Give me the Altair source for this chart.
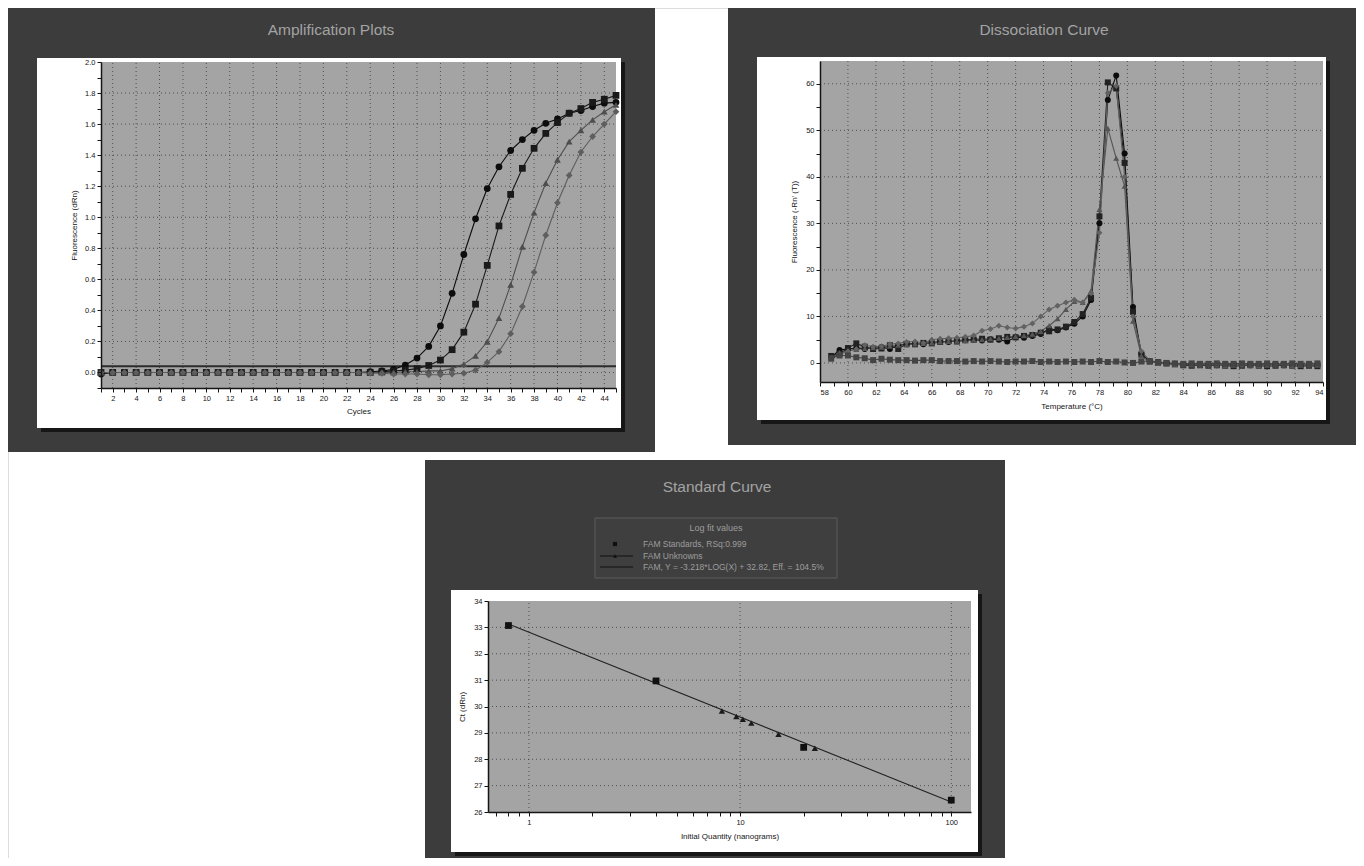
import altair as alt
import pandas as pd

FONT = "Liberation Sans"
PANEL = "#3c3c3c"
SHADOW = "#161616"
PLOT_BG = "#a4a4a4"
GRID_C = "#333333"
INK = "#151515"
TITLE_C = "#a3a3a3"
LEG_C = "#9d9d9d"
W_ALL, H_ALL = 1348, 850

# ---------------- Amplification Plots data ----------------
amp_cycles = list(range(1, 46))
amp_circle = [-0.01, 0.0, 0.0, 0.0, 0.0, 0.0, 0.0, 0.0, 0.0, 0.0,
              0.0, 0.0, 0.0, 0.0, 0.0, 0.0, 0.0, 0.0, 0.0, 0.0,
              0.0, 0.0, 0.0, 0.005, 0.01, 0.02, 0.048, 0.093, 0.168, 0.30,
              0.51, 0.76, 0.99, 1.185, 1.325, 1.43, 1.50, 1.56, 1.605, 1.633,
              1.67, 1.687, 1.713, 1.735, 1.74]
amp_square = [0.0, 0.0, 0.0, 0.0, 0.0, 0.0, 0.0, 0.0, 0.0, 0.0,
              0.0, 0.0, 0.0, 0.0, 0.0, 0.0, 0.0, 0.0, 0.0, 0.0,
              0.0, 0.0, 0.0, 0.0, 0.005, 0.01, 0.015, 0.025, 0.045, 0.08,
              0.147, 0.26, 0.44, 0.69, 0.944, 1.147, 1.315, 1.444, 1.54, 1.61,
              1.67, 1.70, 1.74, 1.76, 1.785]
amp_triangle = [0.0, 0.0, 0.0, 0.0, 0.0, 0.0, 0.0, 0.0, 0.0, 0.0,
                0.0, 0.0, 0.0, 0.0, 0.0, 0.0, 0.0, 0.0, 0.0, 0.0,
                0.0, 0.0, 0.0, 0.0, 0.0, 0.0, 0.005, 0.005, 0.01, 0.01,
                0.025, 0.054, 0.107, 0.198, 0.35, 0.565, 0.81, 1.03, 1.22, 1.37,
                1.487, 1.56, 1.627, 1.68, 1.724]
amp_diamond = [0.0, 0.0, 0.0, 0.0, 0.0, 0.0, 0.0, 0.0, 0.0, 0.0,
               0.0, 0.0, 0.0, 0.0, 0.0, 0.0, 0.0, 0.0, 0.0, 0.0,
               0.0, 0.0, 0.0, -0.005, -0.005, -0.01, -0.01, -0.01, -0.015, -0.015,
               -0.01, -0.005, 0.015, 0.065, 0.134, 0.25, 0.425, 0.646, 0.884, 1.093,
               1.27, 1.42, 1.52, 1.60, 1.68]
amp_threshold = [0.04]
amp_series = ["S1", "S2", "S3", "S4"]
amp_colors = ["#0c0c0c", "#1a1a1a", "#4e4e4e", "#5e5e5e"]
amp_shapes = ["circle", "square", "triangle-up", "diamond"]
amp_xticks = list(range(1, 46))
amp_yticks = [-0.1, 0.0, 0.1, 0.2, 0.3, 0.4, 0.5, 0.6, 0.7, 0.8, 0.9, 1.0,
              1.1, 1.2, 1.3, 1.4, 1.5, 1.6, 1.7, 1.8, 1.9, 2.0]
amp_xgrid = [2, 4, 6, 8, 10, 12, 14, 16, 18, 20, 22, 24, 26, 28, 30, 32, 34, 36, 38, 40, 42, 44]
amp_ygrid = [0.0, 0.2, 0.4, 0.6, 0.8, 1.0, 1.2, 1.4, 1.6, 1.8]

# ---------------- Dissociation Curve data ----------------
diss_temp = [58.8, 59.4, 60.0, 60.6, 61.2, 61.8, 62.4, 63.0, 63.6, 64.2,
             64.8, 65.4, 66.0, 66.6, 67.2, 67.8, 68.4, 69.0, 69.6, 70.2,
             70.8, 71.4, 72.0, 72.6, 73.2, 73.8, 74.4, 75.0, 75.6, 76.2,
             76.8, 77.4, 78.0, 78.6, 79.2, 79.8, 80.4, 81.0, 81.6, 82.2,
             82.8, 83.4, 84.0, 84.6, 85.2, 85.8, 86.4, 87.0, 87.6, 88.2,
             88.8, 89.4, 90.0, 90.6, 91.2, 91.8, 92.4, 93.0, 93.6]
diss_circle = [1.2, 2.8, 3.0, 3.2, 3.0, 3.2, 3.4, 3.0, 3.8, 4.0,
               4.2, 4.0, 4.4, 4.6, 4.5, 4.8, 4.9, 5.0, 4.8, 5.1,
               5.0, 4.6, 5.5, 5.4, 5.8, 6.2, 7.4, 7.0, 7.6, 8.4,
               10.0, 13.5, 30.0, 56.5, 61.8, 45.0, 12.0, 2.0, 0.4, 0.2,
               0.0, -0.2, -0.3, -0.4, -0.3, -0.4, -0.5, -0.4, -0.3, -0.4,
               -0.5, -0.4, -0.3, -0.4, -0.5, -0.4, -0.5, -0.4, -0.5]
diss_square = [1.5, 2.0, 3.2, 4.2, 3.5, 3.0, 3.1, 3.8, 3.0, 4.1,
               4.0, 4.3, 4.2, 4.5, 4.7, 4.6, 4.9, 5.0, 5.2, 5.0,
               5.3, 5.6, 5.5, 5.8, 6.0, 6.5, 6.8, 7.2, 7.8, 8.8,
               10.5, 14.0, 31.5, 60.3, 59.0, 43.0, 11.0, 1.8, 0.3, 0.1,
               -0.1, -0.3, -0.5, -0.6, -0.5, -0.6, -0.5, -0.6, -0.7, -0.6,
               -0.5, -0.6, -0.7, -0.6, -0.5, -0.6, -0.7, -0.6, -0.7]
diss_triangle = [0.8, 2.2, 2.6, 2.9, 3.1, 3.3, 3.4, 3.6, 3.8, 3.9,
                 4.1, 4.2, 4.3, 4.5, 4.6, 4.7, 4.8, 4.9, 5.0, 5.2,
                 5.3, 5.5, 5.7, 5.9, 6.2, 6.8, 8.0, 9.5, 11.5, 13.2,
                 13.0, 15.5, 33.0, 50.4, 44.0, 38.0, 9.0, 1.5, 0.2, 0.0,
                 -0.2, -0.3, -0.4, -0.4, -0.5, -0.4, -0.5, -0.6, -0.5, -0.4,
                 -0.5, -0.6, -0.5, -0.4, -0.5, -0.6, -0.5, -0.4, -0.5]
diss_diamond = [1.0, 1.8, 2.5, 3.0, 3.8, 3.5, 3.6, 4.0, 4.2, 4.5,
                4.6, 4.3, 5.0, 5.2, 5.3, 5.4, 5.6, 5.9, 6.9, 7.3,
                8.0, 7.6, 7.4, 7.8, 8.5, 10.0, 11.5, 12.3, 13.0, 13.6,
                13.0, 15.0, 28.0, 58.0, 59.5, 40.0, 10.0, 2.5, 0.5, 0.2,
                0.0, -0.2, -0.3, -0.2, -0.3, -0.4, -0.3, -0.2, -0.3, -0.4,
                -0.3, -0.2, -0.3, -0.4, -0.3, -0.2, -0.3, -0.4, -0.3]
diss_flat = [1.0, 1.6, 1.6, 1.2, 1.0, 0.6, 0.9, 0.7, 0.6, 0.6,
             0.5, 0.6, 0.6, 0.4, 0.4, 0.4, 0.3, 0.4, 0.3, 0.4,
             0.3, 0.2, 0.3, 0.3, 0.4, 0.2, 0.3, 0.2, 0.3, 0.2,
             0.3, 0.2, 0.4, 0.2, 0.3, 0.1, 0.0, 0.3, 0.4, 0.1,
             0.0, -0.1, -0.2, -0.1, -0.2, -0.2, -0.1, -0.2, -0.2, -0.1,
             -0.2, -0.2, -0.1, -0.2, -0.2, -0.1, -0.2, -0.2, -0.1]
diss_series = ["D1", "D2", "D3", "D4", "D5"]
diss_colors = ["#0c0c0c", "#222222", "#555555", "#626262", "#444444"]
diss_shapes = ["circle", "square", "triangle-up", "diamond", "square"]
diss_xticks = list(range(58, 95))
diss_yticks = [0, 5, 10, 15, 20, 25, 30, 35, 40, 45, 50, 55, 60]
diss_xgrid = [60, 62, 64, 66, 68, 70, 72, 74, 76, 78, 80, 82, 84, 86, 88, 90, 92]
diss_ygrid = [0, 10, 20, 30, 40, 50, 60]

# ---------------- Standard Curve data ----------------
std_qty = [0.8, 4.0, 20.0, 100.0]
std_ct = [33.07, 30.97, 28.45, 26.45]
unk_qty = [8.2, 9.6, 10.3, 11.3, 15.2, 22.6]
unk_ct = [29.83, 29.62, 29.52, 29.37, 28.95, 28.42]
fit_qty = [0.8, 100.0]
fit_ct = [33.13, 26.38]
std_xticks = [0.7, 0.8, 0.9, 1, 2, 3, 4, 5, 6, 7, 8, 9, 10,
              20, 30, 40, 50, 60, 70, 80, 90, 100]
std_yticks = [26, 26.5, 27, 27.5, 28, 28.5, 29, 29.5, 30, 30.5, 31, 31.5,
              32, 32.5, 33, 33.5, 34]
std_xgrid = [1, 10, 100]
std_ygrid = [27, 28, 29, 30, 31, 32, 33]

ONE = pd.DataFrame({"k": [0]})


def rect(x0, x1, y0, y1, fill, stroke=None):
    kw = dict(fill=fill)
    if stroke:
        kw.update(stroke=stroke, strokeWidth=1)
    return alt.Chart(ONE).mark_rect(**kw).encode(
        x=alt.value(x0), x2=alt.value(x1), y=alt.value(y0), y2=alt.value(y1))


def text(x, y, s, size, color, align="center"):
    return alt.Chart(ONE).mark_text(
        align=align, baseline="middle", font=FONT, fontSize=size, color=color
    ).encode(x=alt.value(x), y=alt.value(y), text=alt.value(s))


def frame(dark, white):
    dx0, dx1, dy0, dy1 = dark
    wx0, wx1, wy0, wy1 = white
    return [
        rect(dx0, dx1, dy0, wy0, PANEL),
        rect(dx0, dx1, wy1, dy1, PANEL),
        rect(dx0, wx0, wy0, wy1, PANEL),
        rect(wx1, dx1, wy0, wy1, PANEL),
        rect(wx1, wx1 + 4, wy0 + 4, wy1 + 4, SHADOW),
        rect(wx0 + 4, wx1 + 4, wy1, wy1 + 4, SHADOW),
    ]


def plot_bg(sx, sy, xd, yd):
    return alt.Chart(ONE).mark_rect(fill=PLOT_BG).encode(
        x=alt.X(datum=xd[0], scale=sx, axis=None), x2=alt.X2(datum=xd[1]),
        y=alt.Y(datum=yd[0], scale=sy, axis=None), y2=alt.Y2(datum=yd[1]))


def vgrid(vals, sx, sy, yd):
    return alt.Chart(pd.DataFrame({"gv": vals})).mark_rule(
        color=GRID_C, strokeWidth=0.9, strokeDash=[1, 3], opacity=0.85
    ).encode(x=alt.X("gv:Q", scale=sx, axis=None),
             y=alt.Y(datum=yd[0], scale=sy, axis=None), y2=alt.Y2(datum=yd[1]))


def hgrid(vals, sx, sy, xd):
    return alt.Chart(pd.DataFrame({"gh": vals})).mark_rule(
        color=GRID_C, strokeWidth=0.9, strokeDash=[1, 3], opacity=0.85
    ).encode(y=alt.Y("gh:Q", scale=sy, axis=None),
             x=alt.X(datum=xd[0], scale=sx, axis=None), x2=alt.X2(datum=xd[1]))


AX = dict(labelFont=FONT, labelFontSize=7.5, labelColor=INK, tickColor=INK,
          domainColor=INK, domainWidth=1.5, titleFont=FONT, titleFontSize=8,
          titleColor=INK, titleFontWeight="normal", grid=False, zindex=1,
          tickSize=4, labelPadding=2)

# ---------------- Panel A ----------------
xdA, ydA = [1, 45], [-0.1, 2.0]
sxA = alt.Scale(domain=xdA, range=[93, 608], nice=False, zero=False)
syA = alt.Scale(domain=ydA, range=[380, 54], nice=False, zero=False)
axAx = alt.Axis(orient="bottom", offset=380 - H_ALL, values=amp_xticks, format="d",
                title="Cycles", titlePadding=6,
                labelExpr="datum.value % 2 == 0 ? datum.label : ''", **AX)
axAy = alt.Axis(orient="left", offset=-93, values=amp_yticks, format=".1f",
                title="Fluorescence (dRn)", titlePadding=6,
                labelExpr="round(datum.value * 10) % 2 == 0 ? datum.label : ''", **AX)

amp_rows = []
for name, vals in zip(amp_series, [amp_circle, amp_square, amp_triangle, amp_diamond]):
    for c, v in zip(amp_cycles, vals):
        amp_rows.append({"cycle": c, "value": v, "series": name})
amp_df = pd.DataFrame(amp_rows)

colA = alt.Color("series:N", scale=alt.Scale(domain=amp_series, range=amp_colors), legend=None)
amp_lines = alt.Chart(amp_df).mark_line(strokeWidth=1.1).encode(
    x=alt.X("cycle:Q", scale=sxA, axis=None), y=alt.Y("value:Q", scale=syA, axis=None),
    color=colA, detail="series:N")
amp_points = alt.Chart(amp_df).mark_point(filled=True, size=46, opacity=1).encode(
    x=alt.X("cycle:Q", scale=sxA, axis=axAx), y=alt.Y("value:Q", scale=syA, axis=axAy),
    color=colA,
    shape=alt.Shape("series:N", scale=alt.Scale(domain=amp_series, range=amp_shapes), legend=None))
amp_thr = alt.Chart(pd.DataFrame({"t": amp_threshold})).mark_rule(
    color="#2b2b2b", strokeWidth=2.2).encode(
    y=alt.Y("t:Q", scale=syA, axis=None),
    x=alt.X(datum=xdA[0], scale=sxA, axis=None), x2=alt.X2(datum=xdA[1]))

layersA = [
    *frame((0, 647, 0, 444), (29, 613, 50, 420)),
    text(323, 22, "Amplification Plots", 15.5, TITLE_C),
    plot_bg(sxA, syA, xdA, ydA),
    vgrid(amp_xgrid, sxA, syA, ydA), hgrid(amp_ygrid, sxA, syA, xdA),
    amp_thr, amp_lines, amp_points,
]

# ---------------- Panel B ----------------
xdB, ydB = [58, 94], [-4.1, 64.9]
sxB = alt.Scale(domain=xdB, range=[812, 1315], nice=False, zero=False)
syB = alt.Scale(domain=ydB, range=[374, 53], nice=False, zero=False)
axBx = alt.Axis(orient="bottom", offset=374 - H_ALL, values=diss_xticks, format="d",
                title="Temperature (\u00b0C)", titlePadding=7,
                labelExpr="datum.value % 2 == 0 ? datum.label : ''", **AX)
axBy = alt.Axis(orient="left", offset=-812, values=diss_yticks, format="d",
                title="Fluorescence (-Rn' (T))", titlePadding=7,
                labelExpr="datum.value % 10 == 0 ? datum.label : ''", **AX)

diss_rows = []
for name, vals in zip(diss_series, [diss_circle, diss_square, diss_triangle, diss_diamond, diss_flat]):
    for t, v in zip(diss_temp, vals):
        diss_rows.append({"temp": t, "value": v, "series": name})
diss_df = pd.DataFrame(diss_rows)

colB = alt.Color("series:N", scale=alt.Scale(domain=diss_series, range=diss_colors), legend=None)
diss_lines = alt.Chart(diss_df).mark_line(strokeWidth=1.1).encode(
    x=alt.X("temp:Q", scale=sxB, axis=None), y=alt.Y("value:Q", scale=syB, axis=None),
    color=colB, detail="series:N")
diss_points = alt.Chart(diss_df).mark_point(filled=True, size=36, opacity=1).encode(
    x=alt.X("temp:Q", scale=sxB, axis=axBx), y=alt.Y("value:Q", scale=syB, axis=axBy),
    color=colB,
    shape=alt.Shape("series:N", scale=alt.Scale(domain=diss_series, range=diss_shapes), legend=None))

layersB = [
    *frame((720, W_ALL, 0, 437), (749, 1318, 49, 412)),
    text(1036, 22, "Dissociation Curve", 15.5, TITLE_C),
    plot_bg(sxB, syB, xdB, ydB),
    vgrid(diss_xgrid, sxB, syB, ydB), hgrid(diss_ygrid, sxB, syB, xdB),
    diss_lines, diss_points,
]

# ---------------- Panel C ----------------
xdC, ydC = [0.64, 124], [26, 34]
sxC = alt.Scale(type="log", domain=xdC, range=[480, 963], nice=False)
syC = alt.Scale(domain=ydC, range=[804, 593], nice=False, zero=False)
axCx = alt.Axis(orient="bottom", offset=804 - H_ALL, values=std_xticks, format="~g",
                title="Initial Quantity (nanograms)", titlePadding=7,
                labelExpr="indexof([1, 10, 100], datum.value) >= 0 ? datum.label : ''", **AX)
axCy = alt.Axis(orient="left", offset=-480, values=std_yticks, format="d",
                title="Ct (dRn)", titlePadding=7,
                labelExpr="datum.value % 1 == 0 ? datum.label : ''", **AX)

std_df = pd.DataFrame({"qty": std_qty, "ct": std_ct})
unk_df = pd.DataFrame({"qty": unk_qty, "ct": unk_ct})
fit_df = pd.DataFrame({"qty": fit_qty, "ct": fit_ct})

fit_line = alt.Chart(fit_df).mark_line(color="#222222", strokeWidth=1.1).encode(
    x=alt.X("qty:Q", scale=sxC, axis=None), y=alt.Y("ct:Q", scale=syC, axis=None))
std_pts = alt.Chart(std_df).mark_point(shape="square", filled=True, size=46,
                                       color="#111111", opacity=1).encode(
    x=alt.X("qty:Q", scale=sxC, axis=axCx), y=alt.Y("ct:Q", scale=syC, axis=axCy))
unk_pts = alt.Chart(unk_df).mark_point(shape="triangle-up", filled=True, size=40,
                                       color="#1a1a1a", opacity=1).encode(
    x=alt.X("qty:Q", scale=sxC, axis=None), y=alt.Y("ct:Q", scale=syC, axis=None))

legend_layers = [
    rect(587, 829, 510, 570, "#3f3f3f", stroke="#5c5c5c"),
    text(708, 520, "Log fit values", 9, LEG_C),
    alt.Chart(ONE).mark_point(shape="square", filled=True, size=18, color="#111111", opacity=1).encode(
        x=alt.value(607), y=alt.value(536)),
    text(635, 536, "FAM Standards, RSq:0.999", 8.5, LEG_C, align="left"),
    alt.Chart(ONE).mark_rule(color="#111111", strokeWidth=1).encode(
        x=alt.value(592), x2=alt.value(625), y=alt.value(548)),
    alt.Chart(ONE).mark_point(shape="triangle-up", filled=True, size=16, color="#111111", opacity=1).encode(
        x=alt.value(607), y=alt.value(548)),
    text(635, 548, "FAM Unknowns", 8.5, LEG_C, align="left"),
    alt.Chart(ONE).mark_rule(color="#111111", strokeWidth=1).encode(
        x=alt.value(592), x2=alt.value(625), y=alt.value(559)),
    text(635, 559, "FAM, Y = -3.218*LOG(X) + 32.82, Eff. = 104.5%", 8.5, LEG_C, align="left"),
]

layersC = [
    *frame((417, 997, 452, H_ALL), (443, 970, 582, 844)),
    text(709, 479, "Standard Curve", 15.5, TITLE_C),
    *legend_layers,
    plot_bg(sxC, syC, xdC, ydC),
    vgrid(std_xgrid, sxC, syC, ydC), hgrid(std_ygrid, sxC, syC, xdC),
    fit_line, std_pts, unk_pts,
]

chart = alt.layer(*layersA, *layersB, *layersC).resolve_scale(
    x="independent", y="independent", color="independent", shape="independent"
).resolve_axis(x="independent", y="independent").properties(
    width=W_ALL, height=H_ALL, autosize=alt.AutoSizeParams(type="none"), padding=0
).configure_view(strokeWidth=0).configure(background="#ffffff")

chart.save("out.html", embed_options={"renderer": "svg", "actions": False})
